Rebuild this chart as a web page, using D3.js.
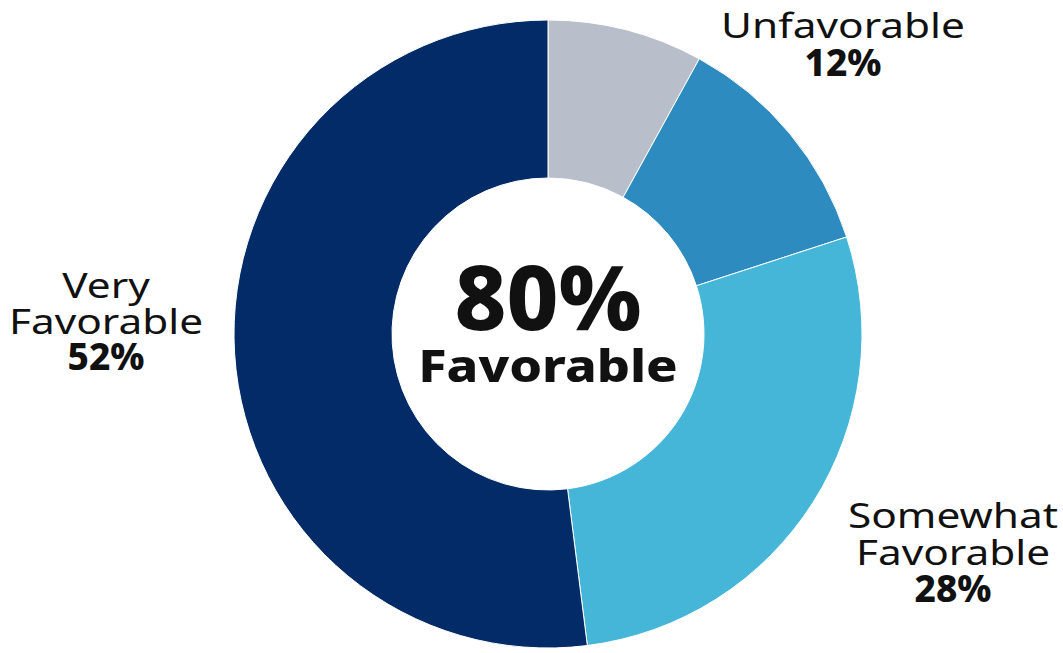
<!DOCTYPE html>
<html><head><meta charset="utf-8">
<script src="https://cdn.jsdelivr.net/npm/d3@7"></script>
<style>
html,body{margin:0;padding:0;background:#fff;}
svg{display:block;}
text{font-family:"Noto Sans",sans-serif;fill:#111;}
</style></head>
<body>
<svg id="chart" width="1063" height="653"></svg>
<script>
const categories = ["No opinion", "Unfavorable", "Somewhat Favorable", "Very Favorable"];
const values = [8, 12, 28, 52];
const colors = ["#b9bfca", "#2d8bbf", "#45b6d8", "#032b67"];
const labelLines = [null, ["Unfavorable"], ["Somewhat", "Favorable"], ["Very", "Favorable"]];
const centerValue = "80%";
const centerLabel = "Favorable";

const svg = d3.select("#chart");
const cx = 548, cy = 334, R = 314, r = 156;
const g = svg.append("g").attr("transform", `translate(${cx},${cy})`);

const pie = d3.pie().sort(null).value(d => d.v);
const data = pie(categories.map((c, i) => ({c, v: values[i], i})));
const arc = d3.arc().innerRadius(r).outerRadius(R);

g.selectAll("path.slice").data(data).join("path")
  .attr("class", "slice")
  .attr("d", arc)
  .attr("fill", d => colors[d.data.i])
  .attr("stroke", "#fff").attr("stroke-width", 1);

// widen text to mimic a wide geometric face
function widen(sel, f) {
  sel.each(function() {
    const w = this.getComputedTextLength();
    d3.select(this).attr("textLength", w * f).attr("lengthAdjust", "spacingAndGlyphs");
  });
}

// center text
g.append("text").attr("text-anchor", "middle").attr("y", -4)
  .style("font-weight", 800).style("font-size", "90px").text(centerValue);
const cl = g.append("text").attr("text-anchor", "middle").attr("y", 48)
  .style("font-weight", 800).style("font-size", "45px").text(centerLabel);
widen(cl, 1.16);

// outside labels
const labelPos = {
  1: {x: 843, y: 38, lh: 38},
  2: {x: 953, y: 528, lh: 37},
  3: {x: 106, y: 298, lh: 36}
};
data.forEach(d => {
  const i = d.data.i;
  if (!labelLines[i]) return;
  const p = labelPos[i];
  labelLines[i].forEach((ln, k) => {
    const t = svg.append("text").attr("text-anchor", "middle")
      .attr("x", p.x).attr("y", p.y + k * p.lh)
      .style("font-size", "35px").style("font-weight", 400).text(ln);
    widen(t, 1.21);
  });
  svg.append("text").attr("text-anchor", "middle")
    .attr("x", p.x).attr("y", p.y + labelLines[i].length * p.lh)
    .style("font-size", "37px").style("font-weight", 800)
    .text(d3.format(".0f")(d.data.v) + "%");
});
</script>
</body></html>
